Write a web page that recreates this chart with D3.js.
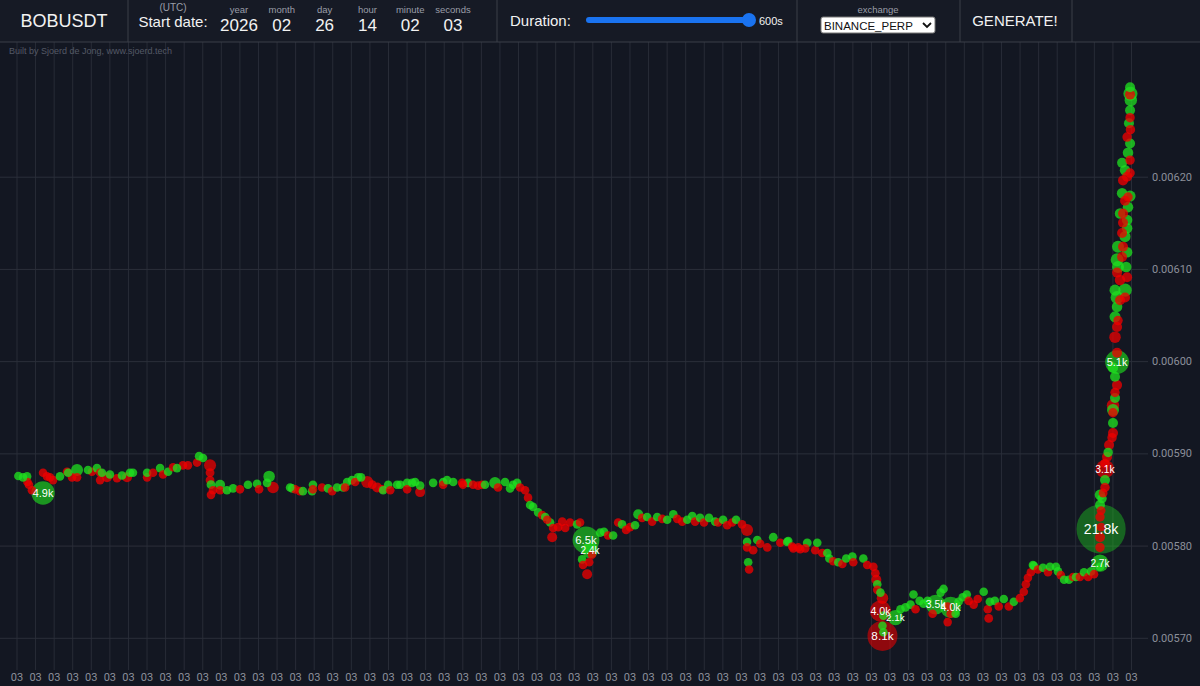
<!DOCTYPE html>
<html>
<head>
<meta charset="utf-8">
<script src="https://cdn.jsdelivr.net/npm/d3@7"></script>
<style>
  body { margin: 0; background: #131722; overflow: hidden; }
  svg { display: block; font-family: "Liberation Sans", Arial, sans-serif; }
</style>
</head>
<body>
<div id="chart"></div>
<script>
// ---- data: each trade is [seconds after start, price, size, side] ----
var openTrades = [
  [1.0,0.0058754,450,"b"],[3.5,0.0058740,400,"b"],[5.7,0.0058750,500,"b"],[5.9,0.0058690,450,"s"],[6.7,0.0058660,500,"s"],
  [8.3,0.0058600,550,"s"],[14.3,0.0058570,4900,"b"],[14.3,0.0058790,450,"s"],[16.4,0.0058750,500,"s"],[18.0,0.0058740,400,"s"],
  [19.7,0.0058710,450,"s"],[23.4,0.0058750,450,"b"],[27.2,0.0058800,500,"s"],[27.8,0.0058790,450,"b"],[29.9,0.0058740,500,"s"],
  [32.6,0.0058820,1300,"b"],[32.6,0.0058740,450,"s"],[38.5,0.0058820,450,"b"],[40.6,0.0058800,500,"s"],[43.3,0.0058840,450,"b"],
  [45.0,0.0058790,450,"s"],[45.0,0.0058710,450,"s"],[46.0,0.0058790,400,"b"],[48.7,0.0058740,900,"s"],[50.3,0.0058770,450,"b"],
  [54.1,0.0058730,500,"s"],[56.8,0.0058760,450,"b"],[59.5,0.0058740,900,"s"],[61.1,0.0058790,450,"b"],[62.7,0.0058790,400,"b"],
  [70.3,0.0058790,450,"b"],[70.3,0.0058740,500,"s"],[73.5,0.0058790,450,"s"],[77.3,0.0058840,450,"b"],[78.9,0.0058770,450,"s"],
  [81.6,0.0058800,450,"b"],[84.3,0.0058850,450,"s"],[86.4,0.0058840,450,"b"],[89.6,0.0058870,500,"s"],[92.3,0.0058870,450,"s"],
  [97.2,0.0058900,500,"s"],[98.3,0.0058970,450,"b"],[100.4,0.0058950,450,"b"],[104.2,0.0058870,1300,"s"],[104.2,0.0058790,700,"s"],
  [104.2,0.0058710,700,"s"],[104.7,0.0058550,600,"s"],[104.7,0.0058660,700,"b"],[105.8,0.0058600,500,"s"],[109.6,0.0058660,900,"b"],
  [109.6,0.0058600,500,"s"],[113.3,0.0058600,450,"b"],[116.6,0.0058620,500,"b"],[120.3,0.0058610,450,"s"],[124.6,0.0058660,450,"b"],
  [129.5,0.0058670,450,"b"],[130.6,0.0058610,450,"s"],[134.9,0.0058680,450,"b"],[136.0,0.0058750,1200,"b"],[138.1,0.0058630,1200,"s"]
];
var midTrades = [
  [147.3,0.0058630,400,"b"],[148.4,0.0058620,450,"b"],[150.0,0.0058610,450,"s"],[152.6,0.0058590,450,"s"],[154.2,0.0058590,450,"b"],
  [159.1,0.0058590,450,"b"],[159.6,0.0058660,450,"b"],[159.6,0.0058610,400,"s"],[164.5,0.0058630,450,"s"],[167.7,0.0058620,450,"b"],
  [169.9,0.0058590,450,"s"],[172.6,0.0058630,450,"b"],[175.8,0.0058630,450,"b"],[176.9,0.0058630,400,"s"],[178.0,0.0058690,450,"b"],
  [180.6,0.0058710,450,"b"],[182.3,0.0058690,450,"s"],[183.9,0.0058740,500,"b"],[185.5,0.0058740,450,"b"],[188.8,0.0058690,1300,"s"],
  [191.5,0.0058660,700,"s"],[194.2,0.0058630,900,"s"],[196.9,0.0058610,600,"s"],[197.4,0.0058600,450,"b"],[200.1,0.0058660,450,"b"],
  [201.2,0.0058600,450,"s"],[204.9,0.0058660,450,"b"],[206.6,0.0058660,450,"b"],[210.3,0.0058680,450,"b"],[210.3,0.0058610,450,"s"],
  [213.0,0.0058680,450,"b"],[214.6,0.0058690,450,"b"],[217.3,0.0058650,450,"b"],[217.3,0.0058580,900,"s"],[224.3,0.0058680,450,"b"],
  [229.7,0.0058690,450,"b"],[229.7,0.0058660,450,"s"],[231.8,0.0058710,450,"b"],[235.1,0.0058690,450,"b"],[239.9,0.0058680,450,"s"],
  [240.4,0.0058660,450,"s"],[243.1,0.0058680,500,"b"],[245.8,0.0058660,450,"s"],[248.5,0.0058650,450,"s"],[250.6,0.0058660,450,"s"],
  [252.2,0.0058660,450,"b"],[257.6,0.0058680,1200,"b"],[259.2,0.0058630,450,"s"],[263.0,0.0058690,450,"b"],[265.7,0.0058620,450,"b"],
  [267.3,0.0058660,450,"b"],[269.5,0.0058680,450,"b"],[271.1,0.0058630,450,"s"],[273.8,0.0058600,450,"s"],[275.4,0.0058520,600,"s"]
];
var dropTrades = [
  [276.5,0.0058440,600,"b"],[278.1,0.0058420,450,"b"],[280.8,0.0058360,450,"b"],[283.0,0.0058330,450,"s"],[284.6,0.0058310,450,"b"],
  [285.7,0.0058280,450,"s"],[287.3,0.0058250,600,"b"],[288.4,0.0058090,900,"s"],[288.9,0.0058190,450,"s"],[291.6,0.0058200,450,"s"],
  [293.8,0.0058260,450,"s"],[295.4,0.0058190,450,"s"],[298.0,0.0058250,450,"s"],[301.8,0.0058230,450,"b"],[303.4,0.0058250,450,"s"],
  [304.5,0.0057850,500,"b"],[305.0,0.0057790,500,"s"],[306.6,0.0058060,6500,"b"],[307.2,0.0057690,900,"s"],[308.3,0.0057820,500,"s"],
  [308.8,0.0057950,2400,"b"],[309.8,0.0057900,450,"s"],[314.2,0.0058140,450,"b"],[316.3,0.0058150,450,"b"],[318.5,0.0058110,450,"s"],
  [321.2,0.0058110,450,"b"],[323.9,0.0058250,450,"s"],[326.0,0.0058230,450,"b"],[328.2,0.0058170,450,"s"],[330.3,0.0058200,450,"s"],
  [333.0,0.0058220,450,"b"],[334.7,0.0058340,900,"b"],[336.8,0.0058300,450,"s"],[339.5,0.0058310,450,"b"],[342.2,0.0058260,450,"s"],
  [344.9,0.0058310,450,"b"],[347.6,0.0058290,450,"s"],[350.3,0.0058280,450,"b"],[353.6,0.0058340,450,"b"],[355.7,0.0058290,450,"s"],
  [358.4,0.0058260,450,"s"],[361.1,0.0058280,450,"b"],[363.8,0.0058320,450,"b"],[365.3,0.0058260,450,"s"],[368.0,0.0058300,450,"b"],
  [370.1,0.0058250,450,"s"],[372.8,0.0058300,450,"b"],[376.1,0.0058260,450,"b"],[377.7,0.0058250,450,"s"],[380.4,0.0058280,450,"b"],
  [382.6,0.0058220,450,"s"],[385.3,0.0058250,450,"s"],[387.4,0.0058280,450,"b"],[390.6,0.0058230,450,"s"],[393.3,0.0058170,1300,"s"],
  [393.3,0.0058040,450,"b"],[393.3,0.0057980,450,"s"],[393.9,0.0057820,450,"b"],[394.4,0.0057740,450,"s"],[396.6,0.0057950,450,"s"],
  [398.8,0.0058060,450,"b"],[400.4,0.0058020,450,"s"],[404.2,0.0057980,450,"s"],[407.4,0.0058090,700,"b"],[411.2,0.0058030,450,"s"],
  [414.9,0.0058040,450,"b"],[415.5,0.0058050,450,"b"],[417.6,0.0057990,450,"s"],[418.2,0.0057970,450,"s"],[420.9,0.0057980,450,"s"],
  [421.9,0.0057960,450,"s"],[424.6,0.0057970,450,"s"],[425.7,0.0058030,700,"b"],[430.0,0.0057950,450,"s"],[431.1,0.0058030,450,"b"],
  [433.8,0.0057920,450,"s"],[436.5,0.0057920,450,"b"],[437.6,0.0057860,450,"b"],[439.7,0.0057830,450,"s"],[442.4,0.0057820,450,"b"],
  [444.6,0.0057800,450,"s"],[446.7,0.0057860,450,"b"],[450.0,0.0057880,450,"b"],[450.5,0.0057820,450,"s"],[455.9,0.0057860,450,"b"]
];
var lowTrades = [
  [458.0,0.0057790,450,"s"],[461.3,0.0057770,450,"s"],[462.4,0.0057700,500,"s"],[462.9,0.0057630,900,"s"],[463.4,0.0057580,450,"b"],
  [463.4,0.0057520,450,"s"],[465.1,0.0057490,450,"b"],[466.2,0.0057430,1200,"s"],[465.1,0.0057290,4000,"s"],[466.7,0.0057240,450,"b"],
  [466.2,0.0057130,450,"b"],[466.7,0.0057060,450,"b"],[466.2,0.0057020,8100,"s"],[473.2,0.0057220,2100,"b"],[475.9,0.0057310,450,"b"],
  [478.6,0.0057330,450,"b"],[481.3,0.0057360,450,"b"],[482.9,0.0057470,450,"b"],[484.0,0.0057310,450,"s"],[486.2,0.0057400,450,"b"],
  [488.3,0.0057370,450,"b"],[490.5,0.0057400,450,"b"],[493.2,0.0057260,450,"s"],[494.8,0.0057360,3500,"b"],[497.5,0.0057490,450,"b"],
  [499.1,0.0057530,450,"b"],[501.3,0.0057340,450,"s"],[501.3,0.0057170,450,"s"],[502.9,0.0057330,4000,"b"],[502.9,0.0057260,450,"s"],
  [505.6,0.0057260,450,"b"],[507.2,0.0057390,450,"b"],[509.4,0.0057440,450,"b"],[511.6,0.0057470,450,"b"],[512.6,0.0057400,450,"s"],
  [515.3,0.0057360,450,"s"],[517.5,0.0057420,450,"s"],[520.7,0.0057500,450,"b"],[522.9,0.0057310,450,"s"],[523.4,0.0057210,700,"s"],
  [524.0,0.0057390,450,"b"],[526.7,0.0057400,450,"b"],[528.8,0.0057340,450,"s"],[531.5,0.0057420,450,"b"],[534.2,0.0057340,450,"s"],
  [536.9,0.0057390,450,"b"],[540.2,0.0057430,450,"s"],[542.3,0.0057500,450,"s"],[543.4,0.0057580,450,"s"],[544.5,0.0057650,450,"s"],
  [546.1,0.0057710,450,"s"],[547.2,0.0057790,450,"b"],[547.7,0.0057780,450,"b"],[549.9,0.0057740,450,"s"],[552.6,0.0057760,450,"b"],
  [555.3,0.0057710,450,"s"],[556.4,0.0057770,450,"b"],[559.6,0.0057770,450,"b"],[560.7,0.0057720,450,"b"],[562.2,0.0057680,450,"s"],
  [564.0,0.0057630,450,"b"],[566.6,0.0057630,450,"b"],[568.8,0.0057660,450,"s"],[570.4,0.0057660,450,"b"],[572.5,0.0057660,450,"s"],
  [574.7,0.0057710,450,"b"],[576.9,0.0057660,450,"s"],[578.5,0.0057720,450,"b"],[580.1,0.0057690,450,"s"]
];
var spikeTrades = [
  [583.3,0.0057770,600,"b"],[583.3,0.0057810,2700,"b"],[583.3,0.0057980,800,"s"],[583.3,0.0058090,900,"s"],[583.9,0.0058180,21800,"b"],
  [583.9,0.0058200,700,"s"],[583.3,0.0058310,800,"s"],[583.9,0.0058380,700,"s"],[583.3,0.0058440,900,"b"],[584.4,0.0058510,800,"b"],
  [585.0,0.0058570,700,"s"],[583.3,0.0058550,1000,"b"],[586.0,0.0058630,800,"s"],[586.0,0.0058710,900,"b"],[586.0,0.0058830,3100,"s"],
  [586.0,0.0058890,800,"s"],[587.1,0.0058960,900,"s"],[587.7,0.0059010,800,"b"],[588.2,0.0059090,900,"s"],[589.8,0.0059170,800,"s"],
  [590.3,0.0059220,900,"s"],[590.3,0.0059330,900,"b"],[590.3,0.0059440,800,"s"],[590.3,0.0059470,1300,"b"],[590.3,0.0059520,1400,"s"],
  [591.4,0.0059600,900,"b"],[591.4,0.0059660,800,"s"],[592.5,0.0059740,900,"s"],[591.4,0.0059830,900,"b"],[590.3,0.0059930,1000,"b"],
  [592.5,0.0059990,5100,"b"],[592.5,0.0060090,900,"s"],[591.4,0.0060260,1200,"s"],[592.5,0.0060370,900,"s"],[593.0,0.0060440,800,"s"],
  [591.4,0.0060480,1100,"b"],[592.5,0.0060590,1000,"b"],[594.1,0.0060660,900,"s"],[592.5,0.0060690,1500,"b"],[591.4,0.0060770,1100,"b"],
  [596.8,0.0060770,1600,"b"],[596.8,0.0060690,900,"s"],[594.1,0.0060880,1000,"s"],[597.9,0.0060910,900,"s"],[592.5,0.0060960,900,"s"],
  [593.0,0.0061020,1300,"b"],[597.4,0.0061020,1000,"b"],[592.5,0.0061100,1500,"b"],[595.2,0.0061130,900,"s"],[597.9,0.0061180,1000,"b"],
  [593.0,0.0061240,1300,"b"],[595.7,0.0061240,900,"s"],[596.8,0.0061350,1100,"b"],[595.2,0.0061390,900,"s"],[597.9,0.0061440,1000,"b"],
  [595.7,0.0061500,900,"s"],[597.9,0.0061530,1000,"b"],[595.7,0.0061600,900,"s"],[594.1,0.0061600,1000,"b"],[598.4,0.0061670,1000,"b"],
  [596.8,0.0061740,900,"s"],[599.5,0.0061790,1100,"b"],[595.2,0.0061820,1000,"b"],[598.4,0.0061780,800,"s"],[595.7,0.0061960,900,"s"],
  [597.9,0.0062000,900,"s"],[599.5,0.0062040,800,"s"],[596.8,0.0062070,1000,"b"],[595.2,0.0062150,900,"b"],[599.5,0.0062180,800,"s"],
  [598.4,0.0062260,1000,"b"],[599.5,0.0062360,900,"b"],[597.9,0.0062430,800,"s"],[599.7,0.0062510,800,"s"],[598.9,0.0062580,900,"b"],
  [599.5,0.0062640,800,"s"],[599.5,0.0062720,900,"b"],[599.9,0.0062830,1400,"b"],[599.5,0.0062890,900,"s"],[599.5,0.0062970,900,"b"],
  [599.7,0.0062900,1800,"b"]
];

var tickSeconds = d3.range(0, 601, 10);   // one tick every 10 s over the 600 s window
var tickLabel = "03";
var priceTicks = [0.0057, 0.0058, 0.0059, 0.0060, 0.0061, 0.0062];
var dateFields = [["year", "2026"], ["month", "02"], ["day", "26"], ["hour", "14"], ["minute", "02"], ["seconds", "03"]];
var symbol = "BOBUSDT", exchange = "BINANCE_PERP", duration = 600;

var W = 1200, H = 686, headH = 42;
var buyColor = "#1fe01f", sellColor = "#ee0000";

var svg = d3.select("#chart").append("svg").attr("width", W).attr("height", H);
svg.append("rect").attr("width", W).attr("height", H).attr("fill", "#131722");

var x = d3.scaleLinear().domain([0, duration]).range([16.5, 1131]);
var y = d3.scaleLinear().domain([0.0057, 0.0062]).range([637.8, 176.7]);
var rScale = d3.scaleSqrt().domain([0, 21800]).range([0, 24.6]);
function radius(q) { return Math.max(4.3, rScale(q)); }

// x axis, ticks stretched up as grid lines
var xAxis = svg.append("g")
  .attr("transform", "translate(0,670)")
  .call(d3.axisBottom(x).tickValues(tickSeconds).tickFormat(function () { return tickLabel; })
    .tickSize(-(670 - headH)).tickPadding(3));
xAxis.select(".domain").remove();
xAxis.selectAll("line").attr("stroke", "#282c37");
xAxis.selectAll("text").attr("fill", "#8b8f9a").attr("font-size", 11)
  .attr("font-family", "Roboto, 'Liberation Sans', Arial, sans-serif");

// y axis on the right, grid lines going left
var yAxis = svg.append("g")
  .attr("transform", "translate(1148,0)")
  .call(d3.axisRight(y).tickValues(priceTicks).tickFormat(d3.format(".5f"))
    .tickSize(-1148).tickPadding(4));
yAxis.select(".domain").remove();
yAxis.selectAll("line").attr("stroke", "#2b2f3a");
yAxis.selectAll("text").attr("fill", "#8b8f9a").attr("font-size", 11)
  .attr("font-family", "Roboto, 'Liberation Sans', Arial, sans-serif");

// trades: biggest first so small dots stay visible on top
var trades = [].concat(openTrades, midTrades, dropTrades, lowTrades, spikeTrades)
  .map(function (d) { return { t: d[0], p: d[1], q: d[2], side: d[3] }; })
  .sort(function (a, b) { return b.q - a.q; });

svg.append("g").selectAll("circle").data(trades).join("circle")
  .attr("cx", function (d) { return x(d.t); })
  .attr("cy", function (d) { return y(d.p); })
  .attr("r", function (d) { return radius(d.q); })
  .attr("fill", function (d) { return d.side === "b" ? buyColor : sellColor; })
  .attr("fill-opacity", function (d) { return Math.max(0.38, 0.86 - 0.0195 * radius(d.q)); });

// size labels on the big ones
svg.append("g").selectAll("text").data(trades.filter(function (d) { return d.q >= 2000; })).join("text")
  .attr("x", function (d) { return x(d.t); })
  .attr("y", function (d) { return y(d.p); })
  .attr("dy", "0.35em")
  .attr("text-anchor", "middle")
  .attr("fill", "#ffffff")
  .attr("font-size", function (d) { return 8 + radius(d.q) * 0.25; })
  .text(function (d) { return (d.q / 1000).toFixed(1) + "k"; });

// ---- header bar ----
var head = svg.append("g");
head.append("rect").attr("width", W).attr("height", headH).attr("fill", "#161a25");
head.append("line").attr("x1", 0).attr("x2", W).attr("y1", headH).attr("y2", headH).attr("stroke", "#3a3e49");
[128, 497, 797, 960, 1072].forEach(function (sx) {
  head.append("line").attr("x1", sx).attr("x2", sx).attr("y1", 0).attr("y2", headH).attr("stroke", "#3a3e49");
});

head.append("text").attr("x", 64).attr("y", 27).attr("text-anchor", "middle")
  .attr("fill", "#f2f2f2").attr("font-size", 18).text(symbol);
head.append("text").attr("x", 173).attr("y", 11).attr("text-anchor", "middle")
  .attr("fill", "#9a9ea8").attr("font-size", 10).text("(UTC)");
head.append("text").attr("x", 173).attr("y", 27).attr("text-anchor", "middle")
  .attr("fill", "#f2f2f2").attr("font-size", 15).text("Start date:");

var fieldX = d3.scalePoint().domain(dateFields.map(function (d) { return d[0]; })).range([239, 453]);
dateFields.forEach(function (f) {
  head.append("text").attr("x", fieldX(f[0])).attr("y", 13).attr("text-anchor", "middle")
    .attr("fill", "#9a9ea8").attr("font-size", 9.5).text(f[0]);
  head.append("text").attr("x", fieldX(f[0])).attr("y", 31).attr("text-anchor", "middle")
    .attr("fill", "#f2f2f2").attr("font-size", 17).text(f[1]);
});

head.append("text").attr("x", 510).attr("y", 26).attr("fill", "#f2f2f2").attr("font-size", 15).text("Duration:");
head.append("rect").attr("x", 586).attr("y", 17).attr("width", 166).attr("height", 6).attr("rx", 3).attr("fill", "#1a73f0");
head.append("circle").attr("cx", 749).attr("cy", 20).attr("r", 7).attr("fill", "#1a73f0");
head.append("text").attr("x", 759).attr("y", 25).attr("fill", "#f2f2f2").attr("font-size", 11).text(duration + "s");

head.append("text").attr("x", 878).attr("y", 13).attr("text-anchor", "middle")
  .attr("fill", "#9a9ea8").attr("font-size", 9.5).text("exchange");
head.append("rect").attr("x", 821).attr("y", 17).attr("width", 114).attr("height", 16).attr("rx", 2)
  .attr("fill", "#ffffff").attr("stroke", "#767676");
head.append("text").attr("x", 824).attr("y", 29.5).attr("fill", "#111").attr("font-size", 11.5).text(exchange);
head.append("path").attr("d", "M923,23 L927,27 L931,23").attr("fill", "none").attr("stroke", "#111").attr("stroke-width", 1.8);

head.append("text").attr("x", 1015).attr("y", 26).attr("text-anchor", "middle")
  .attr("fill", "#f2f2f2").attr("font-size", 15).text("GENERATE!");

svg.append("text").attr("x", 9).attr("y", 54).attr("fill", "#545966").attr("font-size", 9)
  .text("Built by Sjoerd de Jong, www.sjoerd.tech");
</script>
</body>
</html>
